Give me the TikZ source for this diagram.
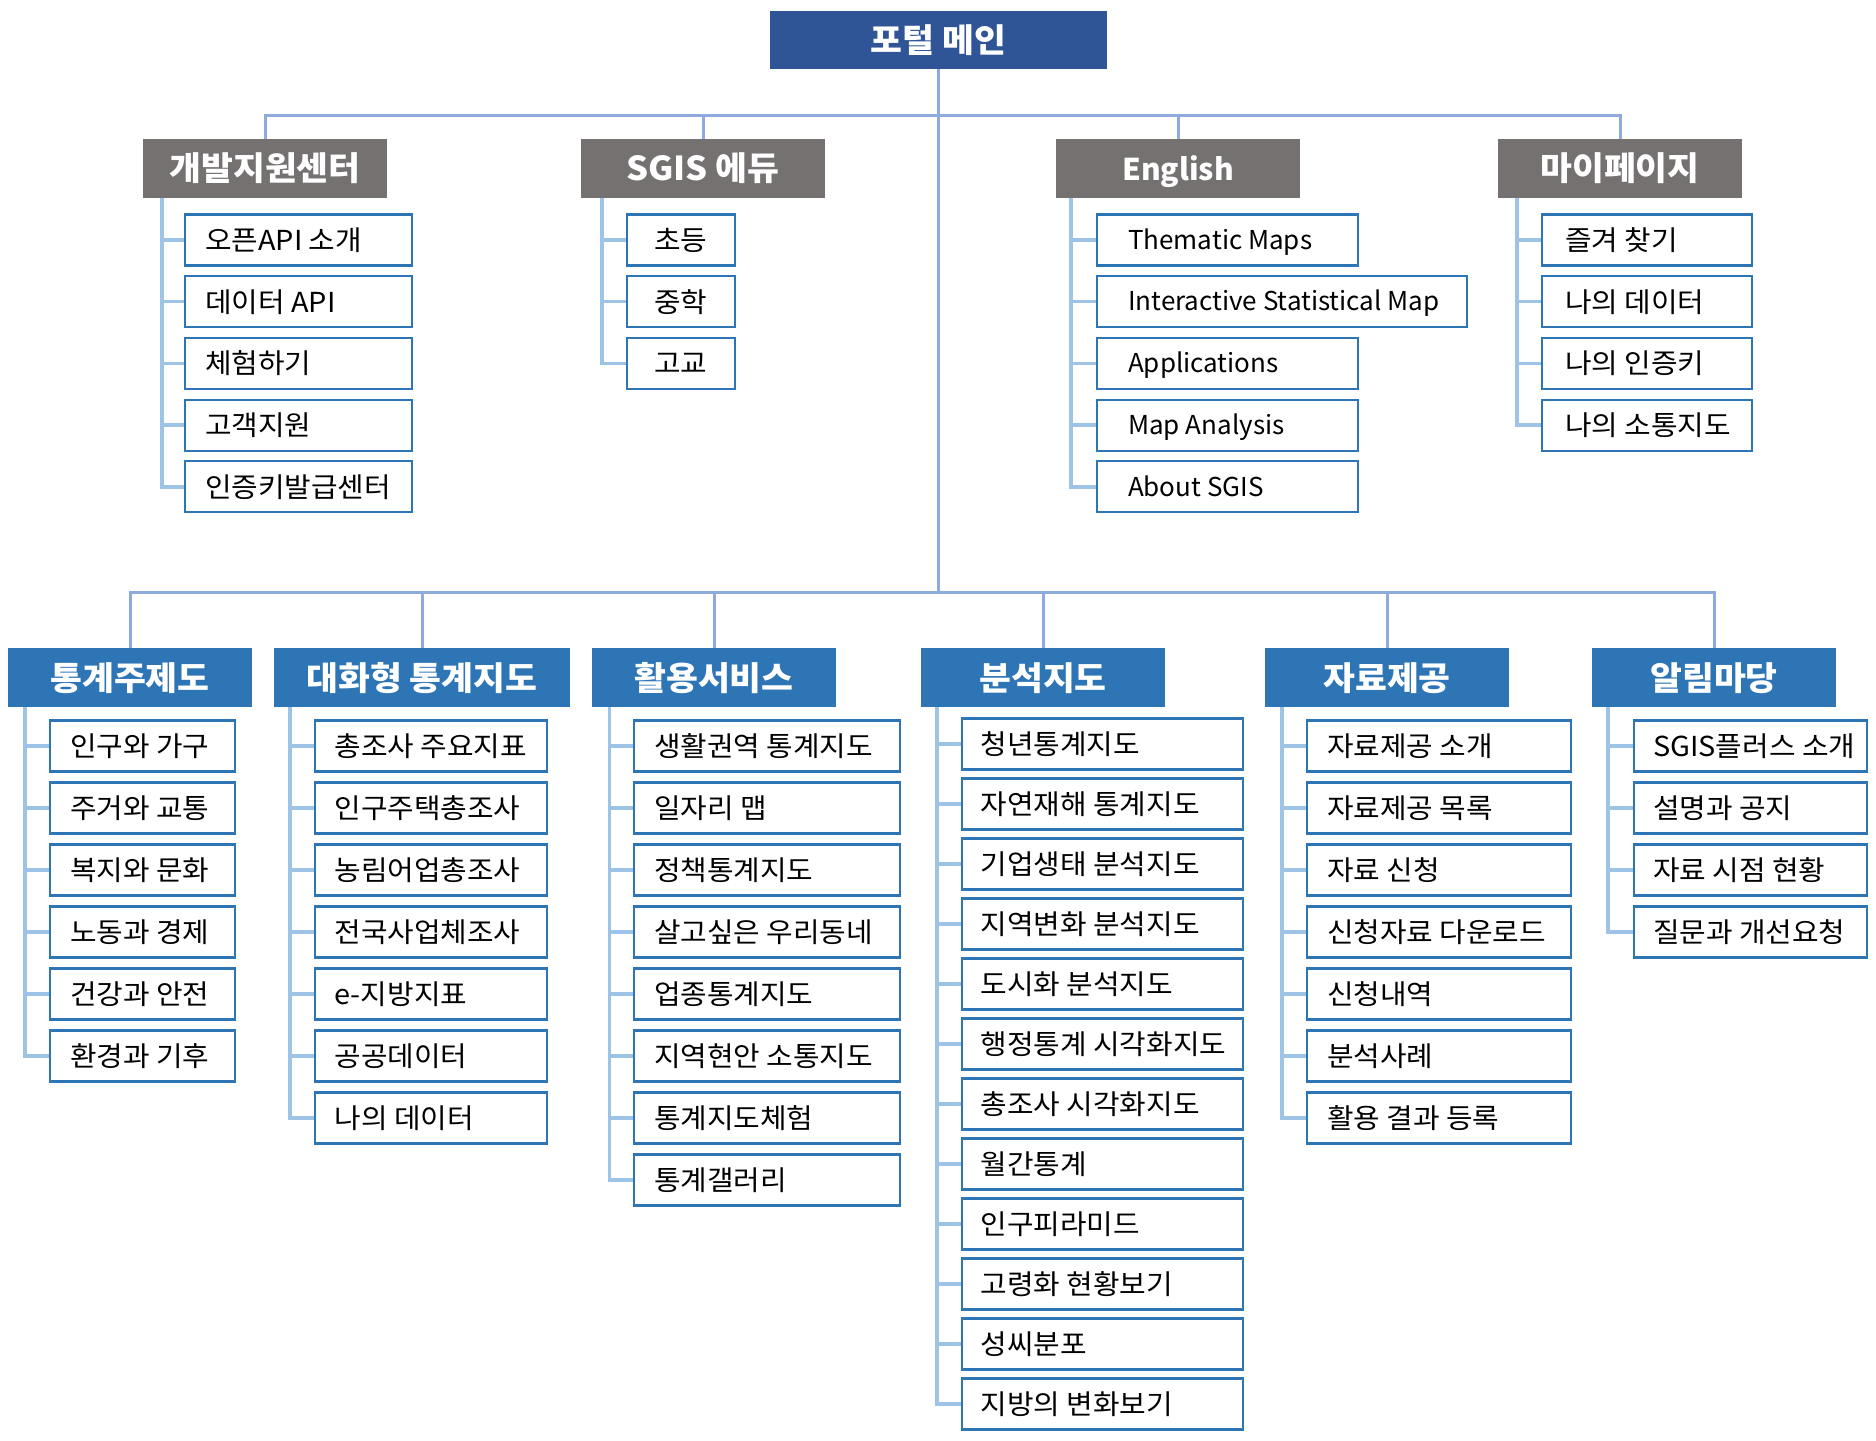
\documentclass[tikz,border=0pt]{standalone}
\usepackage{fontspec}
\setmainfont{Noto Sans CJK KR}
\newfontfamily\krfont[FakeStretch=1.05]{Noto Sans CJK KR}
\definecolor{topblue}{HTML}{2F5597}
\definecolor{hgray}{HTML}{767171}
\definecolor{hblue}{HTML}{2E75B6}
\definecolor{mainline}{HTML}{8FAADC}
\definecolor{brline}{HTML}{9DC3E6}
\tikzset{
  hdrbase/.style={text=white, inner sep=0pt, font=\fontsize{33}{38}\krfont\bfseries, text height=28.5pt, text depth=3.5pt},
  topbox/.style={hdrbase, fill=topblue, minimum width=337pt, minimum height=58pt},
  grayhdr/.style={hdrbase, fill=hgray, minimum width=244pt, minimum height=58.5pt},
  bluehdr/.style={hdrbase, fill=hblue, minimum width=244pt, minimum height=59pt},
  leaf/.style={draw=hblue, line width=2.2pt, fill=white, anchor=west, minimum height=51pt, inner ysep=0pt, font=\fontsize{27.5}{32}\krfont, text height=24pt, text depth=3pt},
  leafen/.style={leaf, font=\fontsize{26}{30}\selectfont, text height=21.5pt, text depth=3pt},
  mainln/.style={draw=mainline, line width=3pt},
  brln/.style={draw=brline, line width=3.5pt},
}
% #1 prefix, #2 header, #3 vline x, #4 box left x, #5 box width, #6 first centre y, #7 spacing, #8 items, #9 indent
\newcommand{\leafgroup}[9]{%
  \coordinate (#1v) at (#3,0 |- #2.south);
  \pgfmathsetmacro{\lgtw}{#5-2-2*#9}%
  \foreach \t [count=\i] in {#8}{%
    \node[leaf, inner xsep=#9pt] (#1\i) at (#4,{#6+(\i-1)*#7}) {\makebox[\lgtw pt][l]{\t}};
    \draw[brln] (#1v) |- (#1\i.west);
  }%
}
\begin{document}
\begin{tikzpicture}[x=1pt,y=-1pt]
\fill[white] (0,0) rectangle (1876,1440);
\useasboundingbox (0,0) rectangle (1876,1440);

% top
\node[topbox] (top) at (938.5,40) {포털 메인};
\coordinate (hub1) at (938.5,115);
\coordinate (hub2) at (938.5,592.5);

% upper headers
\node[grayhdr] (g1) at (265,168.25) {개발지원센터};
\node[grayhdr] (g2) at (703,168.25) {SGIS 에듀};
\node[grayhdr, font=\fontsize{30}{36}\selectfont\bfseries] (g3) at (1178,168.25) {English};
\node[grayhdr] (g4) at (1620,168.25) {마이페이지};

% lower headers
\node[bluehdr] (b1) at (130,677.5) {통계주제도};
\node[bluehdr, minimum width=296pt] (b2) at (422,677.5) {대화형 통계지도};
\node[bluehdr] (b3) at (714,677.5) {활용서비스};
\node[bluehdr] (b4) at (1043,677.5) {분석지도};
\node[bluehdr] (b5) at (1387,677.5) {자료제공};
\node[bluehdr] (b6) at (1714,677.5) {알림마당};

% main connectors
\draw[mainln] (top.south) -- (hub2);
\draw[mainln] (g1.north) |- (hub1) -| (g4.north);
\draw[mainln] (g2.north) -- (g2.north |- hub1);
\draw[mainln] (g3.north) -- (g3.north |- hub1);
\draw[mainln] (b1.north) |- (hub2) -| (b6.north);
\draw[mainln] (b2.north) -- (b2.north |- hub2);
\draw[mainln] (b3.north) -- (b3.north |- hub2);
\draw[mainln] (b4.north) -- (b4.north |- hub2);
\draw[mainln] (b5.north) -- (b5.north |- hub2);

% upper groups
\leafgroup{a}{g1}{162}{184}{229}{240}{61.7}{오픈API 소개,데이터 API,체험하기,고객지원,인증키발급센터}{20}
\leafgroup{s}{g2}{602}{626}{110}{240}{61.7}{초등,중학,고교}{27}
\coordinate (ev) at (1071,0 |- g3.south);
\foreach \t/\w [count=\i] in {Thematic Maps/263,Interactive Statistical Map/372,Applications/263,Map Analysis/263,About SGIS/263}{%
  \pgfmathsetmacro{\ew}{\w-2-62}
  \node[leafen, inner xsep=31pt] (c\i) at (1096,{240+(\i-1)*61.7}) {\makebox[\ew pt][l]{\t}};
  \draw[brln] (ev) |- (c\i.west);
}
\leafgroup{d}{g4}{1517}{1541}{212}{240}{61.7}{즐겨 찾기,나의 데이터,나의 인증키,나의 소통지도}{23}

% lower groups
\leafgroup{e}{b1}{25}{49}{186.5}{746}{62}{인구와 가구,주거와 교통,복지와 문화,노동과 경제,건강과 안전,환경과 기후}{20}
\leafgroup{f}{b2}{290}{313.5}{234.6}{746}{62}{총조사 주요지표,인구주택총조사,농림어업총조사,전국사업체조사,e-지방지표,공공데이터,나의 데이터}{20}
\leafgroup{h}{b3}{609.5}{633}{268}{746}{62}{생활권역 통계지도,일자리 맵,정책통계지도,살고싶은 우리동네,업종통계지도,지역현안 소통지도,통계지도체험,통계갤러리}{20}
\leafgroup{k}{b4}{937}{960.5}{283.5}{744}{60}{청년통계지도,자연재해 통계지도,기업생태 분석지도,지역변화 분석지도,도시화 분석지도,행정통계 시각화지도,총조사 시각화지도,월간통계,인구피라미드,고령화 현황보기,성씨분포,지방의 변화보기}{19}
\leafgroup{m}{b5}{1282}{1306}{265.6}{746}{62}{자료제공 소개,자료제공 목록,자료 신청,신청자료 다운로드,신청내역,분석사례,활용 결과 등록}{20}
\leafgroup{n}{b6}{1608}{1633}{235}{746}{62}{SGIS플러스 소개,설명과 공지,자료 시점 현황,질문과 개선요청}{19}
\end{tikzpicture}
\end{document}
